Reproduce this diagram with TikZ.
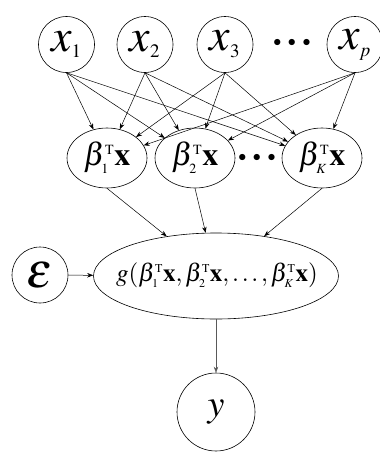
\documentclass[tikz,border=0pt]{standalone}
\usepackage{mathptmx}
\usetikzlibrary{arrows.meta,shapes.geometric}
\DeclareMathSizes{46}{46}{19}{14}
\DeclareMathSizes{32}{32}{14}{10}
\DeclareMathSizes{25}{25}{12}{9}
\DeclareMathSizes{50}{50}{20}{14}
\tikzset{
  var/.style={circle, draw, line width=0.6pt, minimum size=56pt, inner sep=0pt},
  lin/.style={ellipse, draw, line width=0.6pt, minimum width=80pt, minimum height=60pt, inner sep=0pt},
  lbl/.style={inner sep=0pt},
  arr/.style={-{Stealth[length=6pt,width=4.5pt]}, line width=0.5pt},
  dotsnode/.style={inner sep=0pt, font=\fontsize{16}{16}\selectfont},
}
\newcommand{\threedots}{$\bullet\hspace{4.5pt}\bullet\hspace{4.5pt}\bullet$}
\begin{document}
\begin{tikzpicture}[x=1pt,y=-1pt]
\useasboundingbox (0,0) rectangle (380,453);
\node[var, font=\fontsize{46}{50}\selectfont] (x1) at (66.5,44.5) {$x_1$};
\node[var, font=\fontsize{46}{50}\selectfont] (x2) at (145,44.5) {$x_2$};
\node[var, font=\fontsize{46}{50}\selectfont] (x3) at (225,44.5) {$x_3$};
\node[dotsnode] (d1) at (292,43) {\threedots};
\node[var, font=\fontsize{46}{50}\selectfont] (xp) at (355,44.5) {$x_p$};

\node[lin] (b1) at (107,158) {};
\node[lin] (b2) at (195,158) {};
\node[lin] (b3) at (322,158) {};
\node[lbl, font=\fontsize{32}{34}\selectfont] (t1) at (b1) {$\beta_1^{\mathrm{T}}\mathbf{x}$};
\node[lbl, font=\fontsize{32}{34}\selectfont] (t2) at (b2) {$\beta_2^{\mathrm{T}}\mathbf{x}$};
\node[lbl, font=\fontsize{32}{34}\selectfont] (t3) at (b3) {$\beta_K^{\mathrm{T}}\mathbf{x}$};
\node[dotsnode] (d2) at (257,158) {\threedots};

\node[var, font=\fontsize{50}{50}\selectfont] (eps) at (40,275) {$\epsilon$};
\node[ellipse, draw, line width=0.6pt, minimum width=245pt, minimum height=86pt, inner sep=0pt] (g) at (216,276) {};
\node[lbl, font=\fontsize{25}{28}\selectfont] (gt) at (217,275) {$g(\beta_1^{\mathrm{T}}\mathbf{x},\beta_2^{\mathrm{T}}\mathbf{x},\ldots,\beta_K^{\mathrm{T}}\mathbf{x})$};
\node[var, minimum size=78pt, font=\fontsize{38}{40}\selectfont] (y) at (216,412) {$y$};

\foreach \i in {x1,x2,x3,xp} {
  \foreach \j in {b1,b2,b3} {
    \draw[arr] (\i.south) -- (\j);
  }
}
\foreach \j in {b1,b2,b3} {
  \draw[arr] (\j.south) -- (g);
}
\draw[arr] (eps) -- (g);
\draw[arr, gray!70!black] (g) -- (y);
\end{tikzpicture}
\end{document}
